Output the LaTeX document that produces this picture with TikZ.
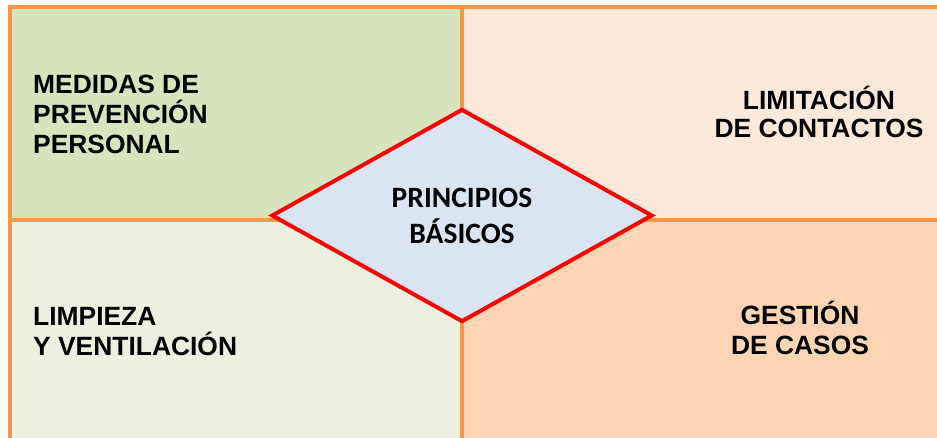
\documentclass[tikz,border=0pt]{standalone}
\usepackage{fontspec}
\setmainfont{Liberation Sans}
\newfontfamily\calibri{Carlito}
\usetikzlibrary{shapes.geometric}
\definecolor{marco}{HTML}{F79646}
\definecolor{verdeosc}{HTML}{D7E4BD}
\definecolor{verdecla}{HTML}{EBF1DE}
\definecolor{salmoncla}{HTML}{FDE9D9}
\definecolor{salmonosc}{HTML}{FCD5B5}
\definecolor{azulrombo}{HTML}{DBE5F1}

\begin{document}
\begin{tikzpicture}[x=1pt,y=-1pt,
		etiqueta/.style={font=\bfseries\fontsize{26.4}{30}\selectfont, inner sep=0pt},
		rombo/.style={diamond, draw=red, fill=azulrombo, line width=4pt, inner sep=0pt,
			minimum width=381pt, minimum height=213pt, aspect=1.79,
			font=\calibri\bfseries\fontsize{29.5}{36}\selectfont, align=center}]
		\useasboundingbox (0,0) rectangle (937,437);
		\coordinate (no) at (10,7);
		\coordinate (se) at (945,440);
		\coordinate (c) at (462,220);
		\fill[verdeosc] (no) rectangle (c);
		\fill[salmoncla] (no -| se) rectangle (c);
		\fill[verdecla] (no |- se) rectangle (c);
		\fill[salmonosc] (se) rectangle (c);
		\draw[marco, line width=4.5pt] (no) rectangle (se);
		\draw[marco, line width=4.5pt] (c |- no) -- (c |- se) (c -| no) -- (c -| se);
		\node[rombo] (pb) at (462,215.5) {PRINCIPIOS\\BÁSICOS};
		% base = linea de abajo
		\node[etiqueta, anchor=base west, align=left] (medidas) at (33,153) {MEDIDAS DE\\PREVENCIÓN\\PERSONAL};
		\node[etiqueta, anchor=base, align=center, font=\bfseries\fontsize{26.4}{28}\selectfont] (limitacion) at (819,137) {LIMITACIÓN\\DE CONTACTOS};
		\node[etiqueta, anchor=base west, align=left] (limpieza) at (33,355) {LIMPIEZA\\Y VENTILACIÓN};
		\node[etiqueta, anchor=base, align=center] (gestion) at (800,354) {GESTIÓN\\DE CASOS};
	\end{tikzpicture}
\end{document}
